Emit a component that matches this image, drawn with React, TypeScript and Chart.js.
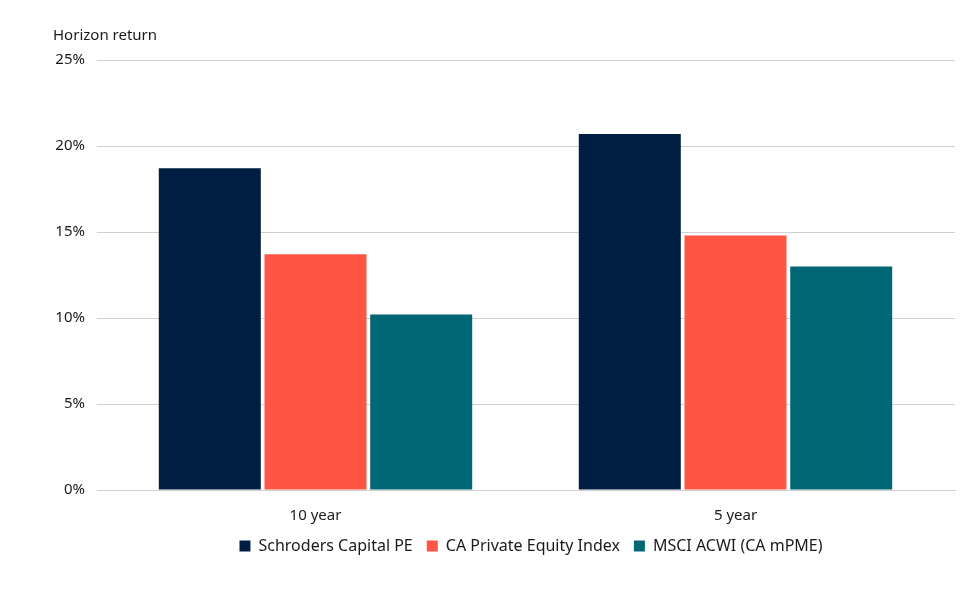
import React, { useEffect, useRef } from "react";
import { Chart, registerables } from "chart.js";

Chart.register(...registerables);

const categories = ["10 year", "5 year"];
const seriesNames = ["Schroders Capital PE", "CA Private Equity Index", "MSCI ACWI (CA mPME)"];
const schroders = [18.7, 20.7];
const caPE = [13.7, 14.8];
const msci = [10.2, 13.0];
const colors = ["#001E42", "#FF5544", "#006874"];
const yTicks = [0, 5, 10, 15, 20, 25];

export default function App() {
  const ref = useRef<HTMLCanvasElement | null>(null);
  useEffect(() => {
    if (!ref.current) return;
    const family = "'Noto Sans', 'Open Sans', sans-serif";
    const font = { family, size: 15 };
    const layoutTweak = {
      id: "layoutTweak",
      afterLayout(chart: any) {
        const lg = chart.legend;
        const xs = chart.scales.x;
        if (lg && xs) {
          const dy = xs.bottom - 18 - lg.top;
          const dx = 27;
          lg.top += dy;
          lg.bottom += dy;
          lg.left += dx;
          lg.right += dx;
          if (lg.legendHitBoxes)
            lg.legendHitBoxes.forEach((h: any) => {
              h.top += dy;
              h.left += dx;
            });
        }
        if (xs) {
          const unit = 420;
          const len = xs.right - xs.left;
          xs._startValue = -218.5 / unit;
          xs._valueRange = len / unit;
        }
      },
    };
    const chart = new Chart(ref.current, {
      type: "bar",
      data: {
        labels: categories,
        datasets: [schroders, caPE, msci].map((d, i) => ({
          label: seriesNames[i],
          data: d,
          backgroundColor: colors[i],
          borderWidth: 0,
          barPercentage: 0.965,
          categoryPercentage: 0.755,
        })),
      },
      plugins: [layoutTweak],
      options: {
        animation: false,
        responsive: true,
        maintainAspectRatio: false,
        layout: { padding: { left: 45, right: 16, top: 19, bottom: 6 } },
        plugins: {
          title: {
            display: true,
            text: "Horizon return",
            align: "start",
            color: "#1a1a1a",
            font: { family, size: 15, weight: "normal" },
            padding: { top: 0, bottom: 15 },
          },
          legend: {
            position: "bottom",
            labels: {
              color: "#1a1a1a",
              font: { family, size: 16 },
              boxWidth: 11,
              boxHeight: 11,
              padding: 14,
            },
          },
          tooltip: { enabled: false },
        },
        scales: {
          x: {
            grid: { display: false, drawTicks: false },
            border: { display: true, color: "#d0d0d0" },
            ticks: { color: "#1a1a1a", font: font, padding: 17 },
          },
          y: {
            min: 0,
            max: 25,
            afterBuildTicks: (axis: any) => {
              axis.ticks = yTicks.map((v) => ({ value: v }));
            },
            afterFit: (axis: any) => {
              axis.width = 44;
            },
            grid: { color: "#d0d0d0", drawTicks: false },
            border: { display: false },
            ticks: {
              color: "#1a1a1a",
              font: font,
              padding: 12,
              callback: (v: any) => v + "%",
            },
          },
        },
      },
    });
    return () => chart.destroy();
  }, []);
  return (
    <div style={{ width: 963, height: 580 }}>
      <canvas ref={ref} />
    </div>
  );
}
